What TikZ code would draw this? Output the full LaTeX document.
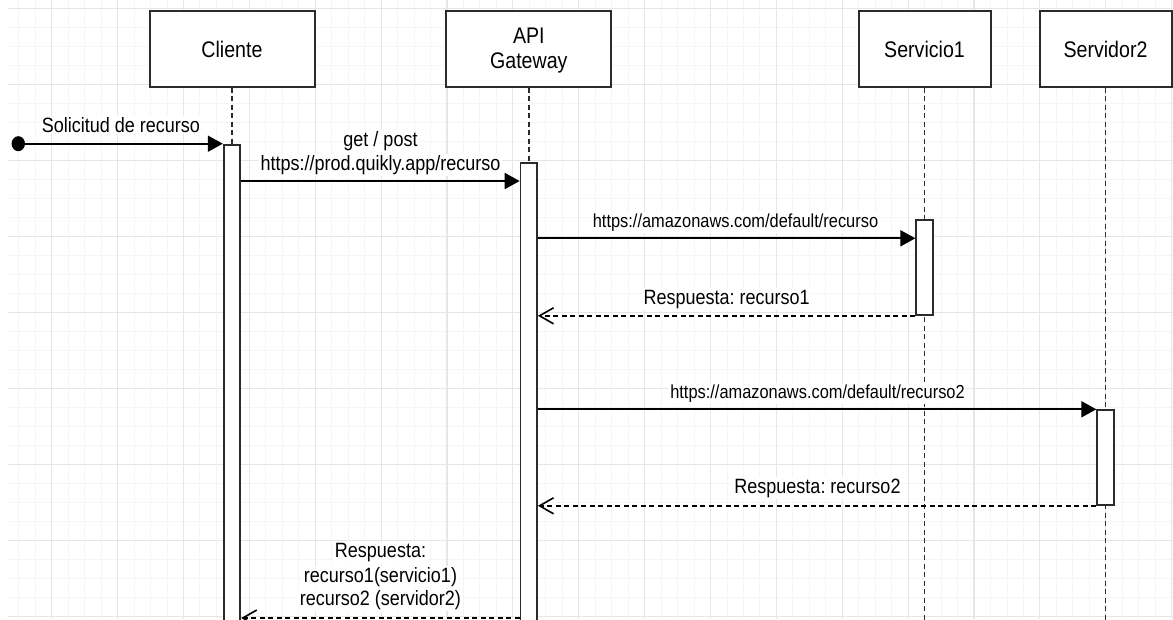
\documentclass[tikz,border=0pt]{standalone}
\usepackage{fontspec}
\usepackage{graphicx}
\setmainfont{Liberation Sans}
\usetikzlibrary{arrows.meta,shapes.geometric}
\definecolor{gridminor}{HTML}{F5F5F5}
\definecolor{gridmajor}{HTML}{E6E6E6}
\definecolor{edge}{HTML}{2B2B2B}
\frenchspacing
% text is set slightly taller than wide
\newcommand\vst[1]{\scalebox{1}[1.15]{#1}}

\begin{document}
\begin{tikzpicture}[x=1pt,y=-1pt,
  head/.style={draw=edge, line width=2pt, fill=white, minimum height=76pt, inner sep=0pt},
  headtxt/.style={anchor=base, inner sep=0pt, font=\fontsize{19.6}{23}\selectfont},
  bar/.style={draw=edge, line width=1.8pt, fill=white, minimum width=16.5pt, inner sep=0pt, anchor=north},
  life/.style={draw=edge, line width=1.7pt, dash pattern=on 5pt off 3.5pt},
  msg/.style={line width=1.9pt, -{Triangle[length=15pt,width=16pt]}},
  ret/.style={line width=1.7pt, dash pattern=on 5pt off 3.5pt,
              -{Straight Barb[length=14pt,width=16pt,line width=1.6pt]}},
  lbl/.style={anchor=base, fill=white, inner sep=1.5pt, font=\fontsize{18}{21}\selectfont},
  lblsm/.style={lbl, font=\fontsize{16.4}{19}\selectfont},
]
\useasboundingbox (0,0) rectangle (1173,619);
\clip (0,0) rectangle (1173,619);

% background grid
\foreach \i in {-2,...,68}
  \draw[gridminor, line width=0.9pt] ({51.7+16.47*\i},0) -- ({51.7+16.47*\i},619);
\foreach \j in {0,...,32}
  \draw[gridminor, line width=0.9pt] (8,{8.7+19*\j}) -- (1173,{8.7+19*\j});
\foreach \i in {0,...,17}
  \draw[gridmajor, line width=1.1pt] ({51.7+65.88*\i},0) -- ({51.7+65.88*\i},619);
\foreach \j in {0,...,8}
  \draw[gridmajor, line width=1.1pt] (8,{8.7+76*\j}) -- (1173,{8.7+76*\j});

\coordinate (bot) at (0,640);

% participants
\node[head, minimum width=165pt] (cl) at (232,48.7) {};
\node[head, minimum width=165pt] (api) at (528.8,48.7) {};
\node[head, minimum width=132pt] (s1) at (924.5,48.7) {};
\node[head, minimum width=132pt] (s2) at (1105.5,48.7) {};
\node[headtxt] (clT) at (232,57.3) {\vst{Cliente}};
\node[headtxt] (apiT1) at (528.8,43.3) {\vst{API}};
\node[headtxt] (apiT2) at (528.8,68.3) {\vst{Gateway}};
\node[headtxt] (s1T) at (924.5,57.3) {\vst{Servicio1}};
\node[headtxt] (s2T) at (1105.5,57.3) {\vst{Servidor2}};

% lifelines
\draw[life] (cl.south) -- (cl.south |- bot);
\draw[life] (api.south) -- (api.south |- bot);
\draw[life] (s1.south) -- (s1.south |- bot);
\draw[life] (s2.south) -- (s2.south |- bot);

% activation bars
\node[bar, minimum height=520pt] (cbar) at (232,143.7) {};
\node[bar, minimum height=500pt] (abar) at (528.8,162) {};
\node[bar, minimum height=94.7pt] (sbar) at (924.5,219.3) {};
\node[bar, minimum height=94.7pt] (dbar) at (1105.5,409.3) {};

% messages
\node[ellipse, fill=black, minimum width=13.4pt, minimum height=15pt, inner sep=0pt] (dot) at (18.3,143.7) {};
\draw[msg] (dot) -- (cbar.north west);
\node[lbl] (l1) at (121,132.3) {\vst{Solicitud de recurso}};

\coordinate (y2) at (0,181);
\draw[msg] (cbar.east |- y2) -- (abar.west |- y2);
\node[lbl] (l2a) at (380.5,146) {\vst{get / post}};
\node[lbl] (l2b) at (380.5,170) {\vst{https://prod.quikly.app/recurso}};

\coordinate (y3) at (0,238.3);
\draw[msg] (abar.east |- y3) -- (sbar.west |- y3);
\node[lblsm] (l3) at (735.5,227.3) {\vst{https://amazonaws.com/default/recurso}};

\draw[ret] (sbar.south west) -- (abar.east |- sbar.south);
\node[lbl] (l4) at (726.7,304) {\vst{Respuesta: recurso1}};

\draw[msg] (abar.east |- dbar.north) -- (dbar.north west);
\node[lblsm] (l5) at (817.5,398.3) {\vst{https://amazonaws.com/default/recurso2}};

\draw[ret] (dbar.south west) -- (abar.east |- dbar.south);
\node[lbl] (l6) at (817.5,493.3) {\vst{Respuesta: recurso2}};

\coordinate (y7) at (0,618);
\draw[ret] (abar.west |- y7) -- (cbar.east |- y7);
\node[lbl] (l7a) at (380.5,557.7) {\vst{Respuesta:}};
\node[lbl] (l7b) at (380.5,582) {\vst{recurso1(servicio1)}};
\node[lbl] (l7c) at (380.5,605) {\vst{recurso2 (servidor2)}};
\end{tikzpicture}
\end{document}
